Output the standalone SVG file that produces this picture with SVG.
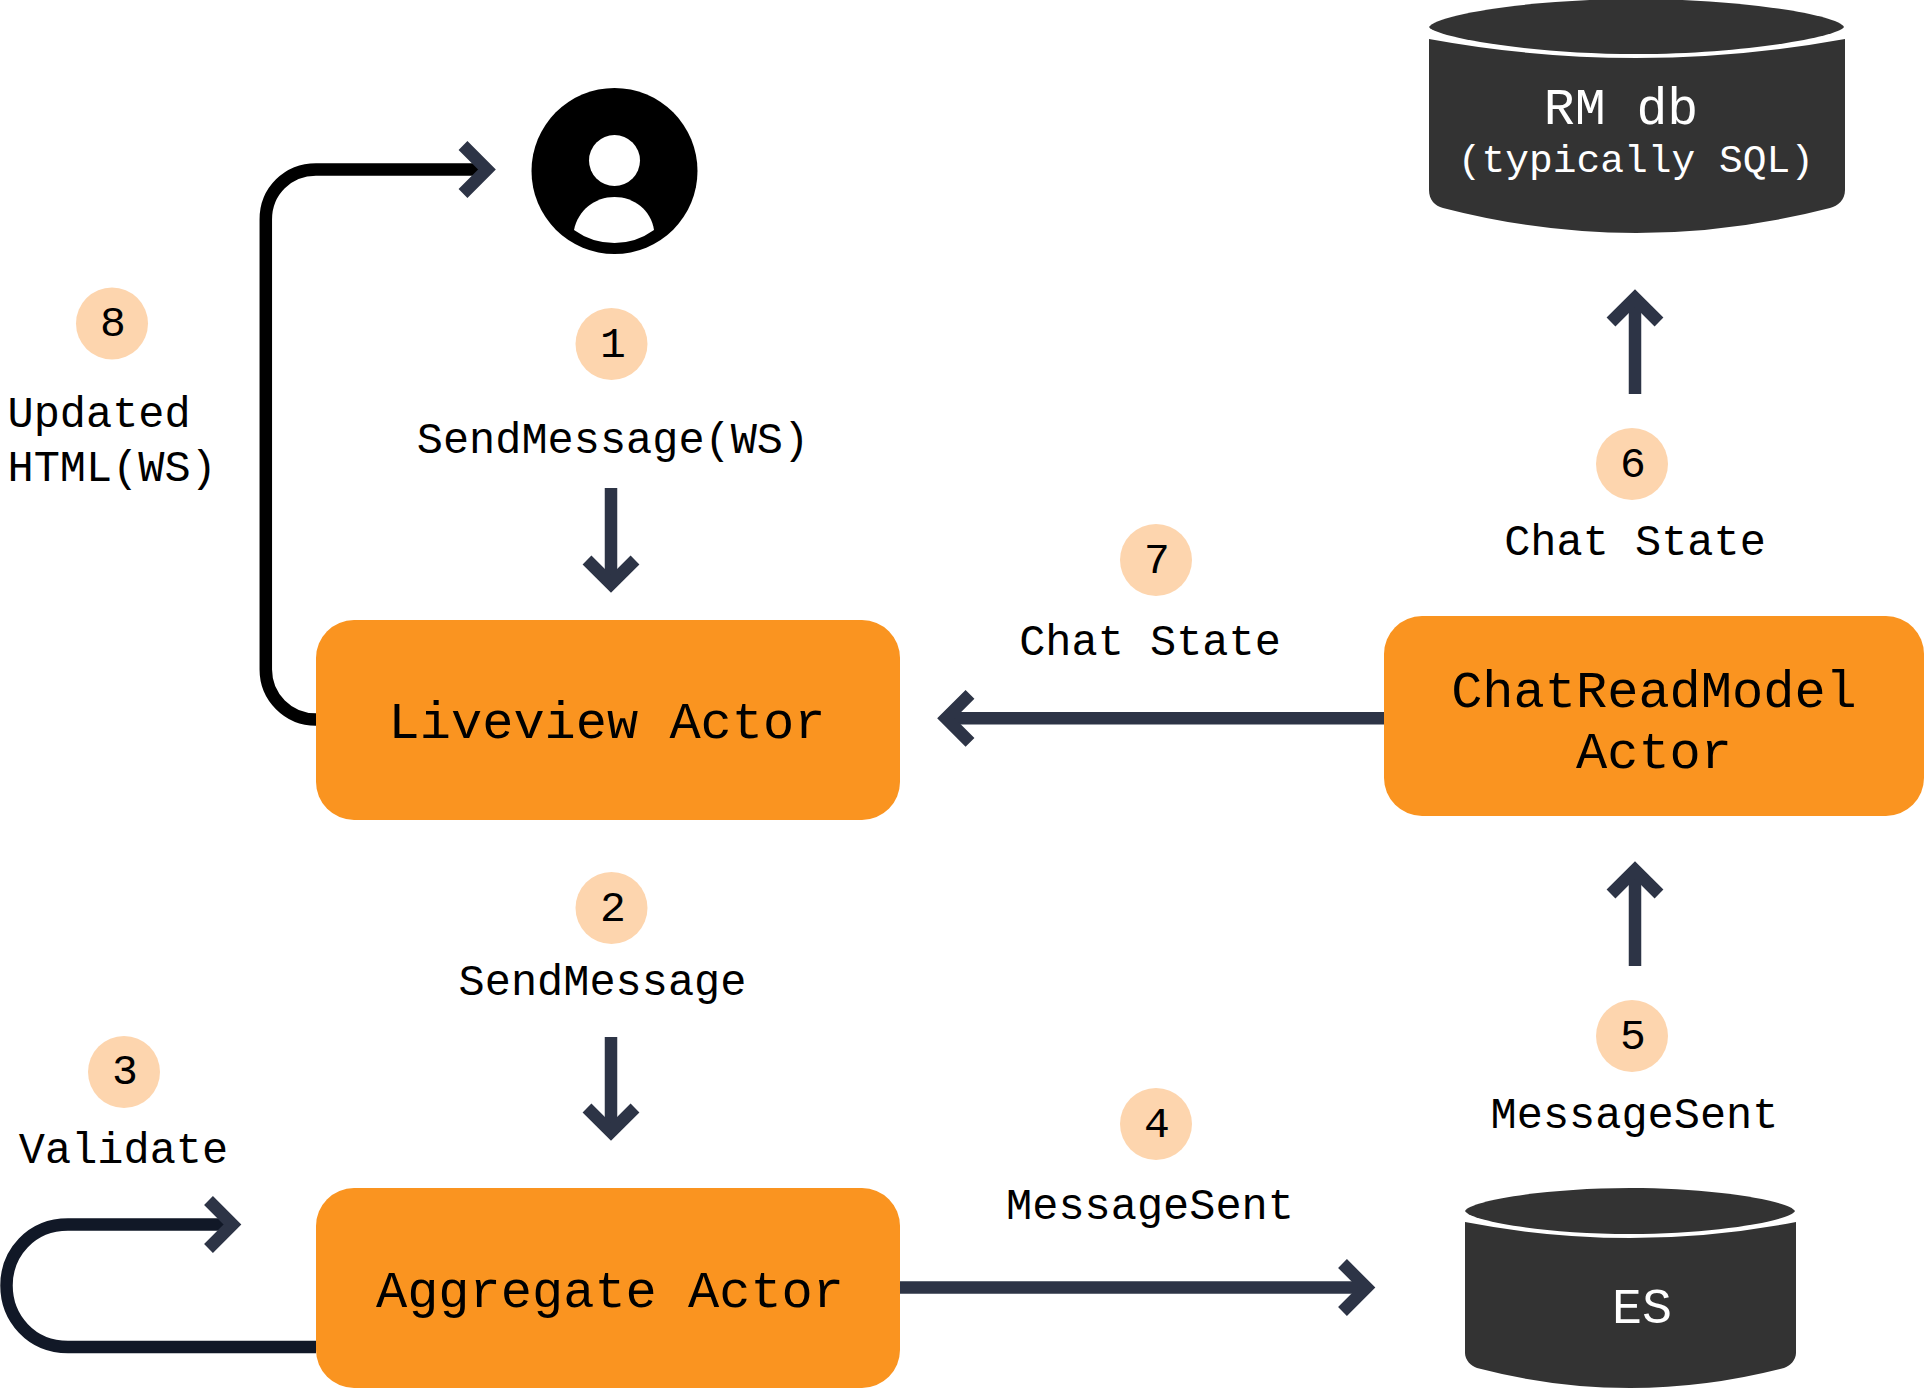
<svg xmlns="http://www.w3.org/2000/svg" width="1924" height="1389" viewBox="0 0 1924 1389">
<style>
text{font-family:"Liberation Mono","DejaVu Sans Mono",monospace;fill:#000;text-anchor:middle}
.lbl{font-size:43.6px}
.num{font-size:43px}
.big{font-size:52px}
.db{fill:#fff}
.box{fill:#fa9420}
.cyl{fill:#333}
.badge{fill:#fdd5ae}
.ln{fill:none;stroke-width:12.5;marker-end:url(#chev)}
.slate{stroke:#2d3446}
.ink{stroke:#111827}
.blk{stroke:#000}
</style>
<defs>
<marker id="chev" markerUnits="userSpaceOnUse" viewBox="-50 -50 100 100" markerWidth="100" markerHeight="100" refX="0" refY="0" orient="auto">
<path d="M-24-24 0 0-24 24" fill="none" stroke="#2d3446" stroke-width="12.5"/>
</marker>
</defs>
<rect width="1924" height="1389" fill="#fff"/>
<g id="connectors">
<path class="ln blk" d="M316 719.5C288 719.5 265.8 697 265.8 669.5V219.5C265.8 191 288 169.5 316 169.5H487"/>
<path class="ln ink" d="M316 1347H68C31 1347 6.5 1318 6.5 1285.5C6.5 1253 31 1224.5 68 1224.5H232.5"/>
<path class="ln slate" d="M611 488V584"/>
<path class="ln slate" d="M611 1037V1132"/>
<path class="ln slate" d="M900 1287.5H1366.5"/>
<path class="ln slate" d="M1635 966V870"/>
<path class="ln slate" d="M1635 394V298"/>
<path class="ln slate" d="M1384 718.3H946"/>
</g>
<g id="user">
<circle cx="614.5" cy="171" r="83" fill="#000"/>
<circle cx="614.5" cy="160.5" r="25.5" fill="#fff"/>
<path d="M574 230C578 210 595 197 614.5 197C634 197 651 210 654 230Q636 243 614.5 243Q592 243 574 230Z" fill="#fff"/>
</g>
<g id="liveview-actor">
<rect class="box" x="316" y="620" width="584" height="200" rx="38"/>
<text class="big" x="607" y="738">Liveview Actor</text>
</g>
<g id="aggregate-actor">
<rect class="box" x="316" y="1188" width="584" height="200" rx="38"/>
<text class="big" x="610" y="1307">Aggregate Actor</text>
</g>
<g id="chatreadmodel-actor">
<rect class="box" x="1384" y="616" width="540" height="200" rx="38"/>
<text class="big" x="1654" y="707">ChatReadModel</text>
<text class="big" x="1654" y="768">Actor</text>
</g>
<g id="rm-db">
<path class="cyl" d="M1429 27C1435 15 1530 -1 1636 -1C1742 -1 1838 15 1844 27C1838 37 1742 54 1636 54C1530 54 1435 37 1429 27Z"/>
<path class="cyl" d="M1429 39Q1636 77 1845 39V190C1845 200 1838 206 1830 208Q1636 258 1443 208C1435 206 1429 200 1429 190Z"/>
<text class="db" style="font-size:51.5px" x="1621" y="124">RM db</text>
<text class="db" style="font-size:39.6px" x="1636" y="172">(typically SQL)</text>
</g>
<g id="es">
<path class="cyl" d="M1465 1211C1470 1201 1545 1188 1630 1188C1715 1188 1790 1201 1795 1211C1790 1221 1715 1234 1630 1234C1545 1234 1470 1221 1465 1211Z"/>
<path class="cyl" d="M1465 1222Q1630 1254 1796 1222V1353C1796 1360 1790 1366 1784 1368Q1630 1408 1477 1368C1471 1366 1465 1360 1465 1353Z"/>
<text class="db" style="font-size:50px" x="1642" y="1323">ES</text>
</g>
<g id="step-1"><circle class="badge" cx="611.5" cy="344" r="36"/><text class="num" x="613" y="356.5">1</text><text class="lbl" x="613" y="453">SendMessage(WS)</text></g>
<g id="step-2"><circle class="badge" cx="611.5" cy="908" r="36"/><text class="num" x="613" y="920.5">2</text><text class="lbl" x="602.5" y="995">SendMessage</text></g>
<g id="step-3"><circle class="badge" cx="124" cy="1072" r="36"/><text class="num" x="125" y="1084">3</text><text class="lbl" x="123.5" y="1162.5">Validate</text></g>
<g id="step-4"><circle class="badge" cx="1156" cy="1124" r="36"/><text class="num" x="1157" y="1136.5">4</text><text class="lbl" x="1150" y="1219">MessageSent</text></g>
<g id="step-5"><circle class="badge" cx="1632" cy="1036" r="36"/><text class="num" x="1633" y="1048.5">5</text><text class="lbl" x="1634.5" y="1127.5">MessageSent</text></g>
<g id="step-6"><circle class="badge" cx="1632" cy="464" r="36"/><text class="num" x="1633" y="476.5">6</text><text class="lbl" x="1635" y="555">Chat State</text></g>
<g id="step-7"><circle class="badge" cx="1156" cy="560" r="36"/><text class="num" x="1157" y="572.5">7</text><text class="lbl" x="1150" y="655">Chat State</text></g>
<g id="step-8"><circle class="badge" cx="112" cy="323.5" r="36"/><text class="num" x="113" y="336">8</text><text class="lbl" x="7.5" y="427" style="text-anchor:start">Updated</text><text class="lbl" x="7.5" y="481" style="text-anchor:start">HTML(WS)</text></g>
</svg>
